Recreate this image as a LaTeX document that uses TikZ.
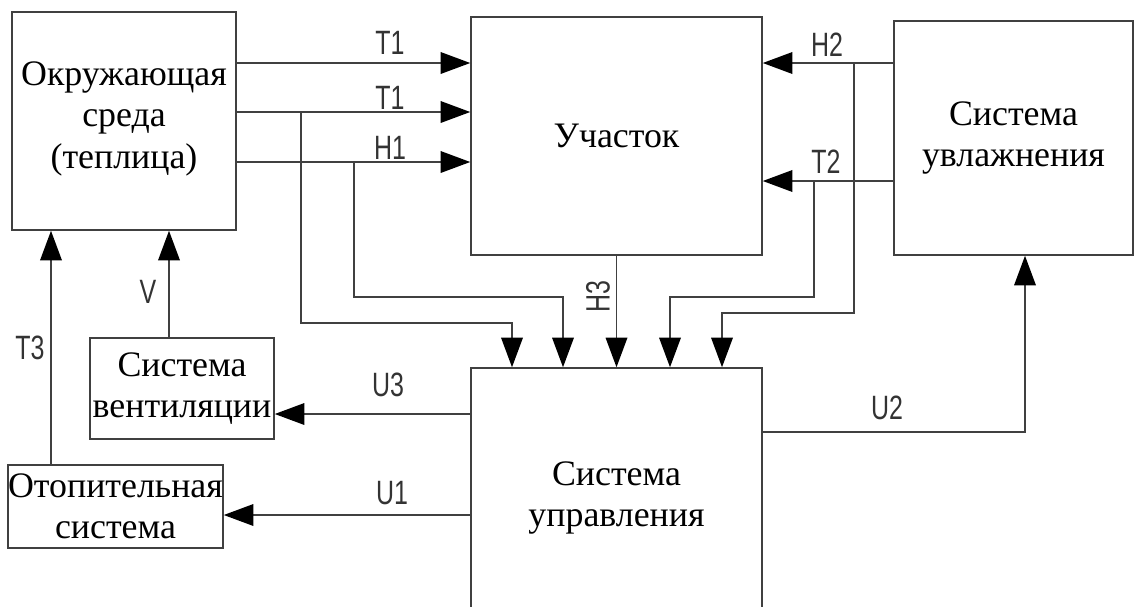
\documentclass[tikz,border=0pt]{standalone}
\usepackage{fontspec}
\setmainfont{Liberation Serif}
\newfontfamily\lblfont[FakeStretch=0.74]{Liberation Sans}
\usetikzlibrary{arrows.meta, positioning, calc}

\begin{document}
\begin{tikzpicture}[
    box/.style={rectangle, draw=black!75, line width=1.1pt, align=center, inner sep=0pt, font=\fontsize{25.5}{29.5}\selectfont},
    arrow/.style={-{Triangle[length=0.74cm, width=0.54cm, color=black]}, draw=black!75, line width=1.1pt},
    sig/.style={font=\lblfont\fontsize{24}{26}\selectfont, text=black!80}
]

\useasboundingbox (0,0) rectangle (28.55,-15.15);

% ============ BLOCKS ============
\node[box, minimum width=5.6cm, minimum height=5.45cm] (env) at (3.1, -3.025) {Окружающая\\среда\\(теплица)\\[-0.74cm]};
\node[box, minimum width=7.275cm, minimum height=5.95cm] (plot) at (15.4125, -3.4) {Участок};
\node[box, minimum width=5.975cm, minimum height=5.85cm] (humid) at (25.3375, -3.45) {Система\\увлажнения};
\node[box, minimum width=4.6cm, minimum height=2.525cm] (vent) at (4.55, -9.7125) {Система\\вентиляции};
\node[box, minimum width=5.375cm, minimum height=2.075cm] (heat) at (2.8875, -12.6625) {Отопительная\\система};
\node[box, minimum width=7.275cm, minimum height=6.5cm] (ctrl) at (15.4125, -12.45) {Система\\управления};

% ============ HELPER POINTS ============
\coordinate (r1) at (0, -1.575);
\coordinate (jT1) at (7.525, -2.8);
\coordinate (jH1) at (8.85, -4.05);
\coordinate (jT2) at (20.35, -4.525);
\coordinate (jH2) at (21.35, -1.575);
\coordinate (k1) at (12.8, -8.075);
\coordinate (k2) at (14.075, -7.425);
\coordinate (k4) at (16.75, -7.425);
\coordinate (k5) at (18.05, -7.825);
\coordinate (u3) at (0, -10.35);
\coordinate (u1) at (0, -12.875);
\coordinate (u2) at (25.625, -10.8);
\coordinate (t3) at (1.275, 0);
\coordinate (vv) at (4.225, 0);

% ============ SIGNALS TO PLOT ============
\draw[arrow] (env.east |- r1) -- (plot.west |- r1);
\draw[arrow] (env.east |- jT1) -- (plot.west |- jT1);
\draw[arrow] (env.east |- jH1) -- (plot.west |- jH1);
\draw[arrow] (humid.west |- jH2) -- (plot.east |- jH2);
\draw[arrow] (humid.west |- jT2) -- (plot.east |- jT2);

% ============ MEASUREMENTS TO CONTROL ============
\draw[arrow] (jT1) |- (k1) -- (k1 |- ctrl.north);
\draw[arrow] (jH1) |- (k2) -- (k2 |- ctrl.north);
\draw[arrow] (plot.south) -- (ctrl.north);
\draw[arrow] (jT2) |- (k4) -- (k4 |- ctrl.north);
\draw[arrow] (jH2) |- (k5) -- (k5 |- ctrl.north);

% ============ CONTROL OUTPUTS ============
\draw[arrow] (ctrl.west |- u3) -- (vent.east |- u3);
\draw[arrow] (ctrl.west |- u1) -- (heat.east |- u1);
\draw[arrow] (ctrl.east |- u2) -- (u2) -- (u2 |- humid.south);
\draw[arrow] (heat.north -| t3) -- (env.south -| t3);
\draw[arrow] (vent.north -| vv) -- (env.south -| vv);

% ============ LABELS ============
\node[sig] (lT1a) at (9.75, -1.075) {T1};
\node[sig] (lT1b) at (9.75, -2.45) {T1};
\node[sig] (lH1) at (9.75, -3.7) {H1};
\node[sig] (lH2) at (20.675, -1.125) {H2};
\node[sig] (lT2) at (20.65, -4.05) {T2};
\node[sig, rotate=90] (lH3) at (14.95, -7.425) {H3};
\node[sig] (lU3) at (9.7, -9.625) {U3};
\node[sig] (lU1) at (9.8, -12.325) {U1};
\node[sig] (lU2) at (22.175, -10.2) {U2};
\node[sig] (lT3) at (0.75, -8.7) {T3};
\node[sig] (lV) at (3.7, -7.3) {V};

\end{tikzpicture}
\end{document}
